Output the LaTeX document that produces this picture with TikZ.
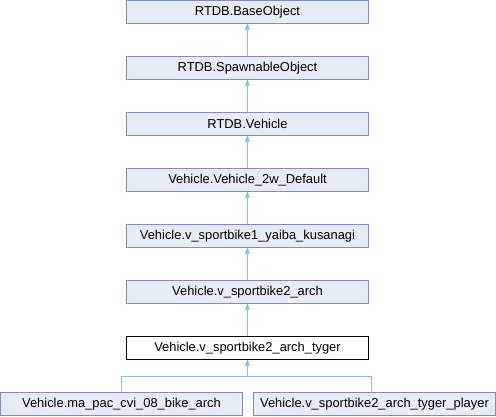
\documentclass[tikz,border=0pt]{standalone}
\usepackage{fontspec}
\setmainfont{Liberation Sans}
\usetikzlibrary{arrows.meta}
\definecolor{boxfill}{RGB}{232,236,245}
\definecolor{boxline}{RGB}{122,142,200}
\definecolor{edgecol}{RGB}{140,192,228}
\tikzset{
  cls/.style={draw=boxline, fill=boxfill, line width=1pt, minimum width=242pt, minimum height=22.5pt, inner sep=0pt, font=\fontsize{12.9}{14}\selectfont},
  cur/.style={cls, draw=black, fill=white},
  inh/.style={draw=edgecol, line width=1pt, -{Triangle[width=5pt,length=6pt]}},
  inhl/.style={draw=edgecol, line width=1pt}
}
\begin{document}
\begin{tikzpicture}[x=1pt,y=-1pt]
\useasboundingbox (0,0) rectangle (496,416);
\node[cls] (b0) at (247.5,11.75) {RTDB.BaseObject};
\node[cls] (b1) at (247.5,67.75) {RTDB.SpawnableObject};
\node[cls] (b2) at (247.5,123.75) {RTDB.Vehicle};
\node[cls] (b3) at (247.5,179.75) {Vehicle.Vehicle\_2w\_Default};
\node[cls] (b4) at (247.5,235.75) {Vehicle.v\_sportbike1\_yaiba\_kusanagi};
\node[cls] (b5) at (247.5,291.75) {Vehicle.v\_sportbike2\_arch};
\node[cur] (b6) at (247.5,347.75) {Vehicle.v\_sportbike2\_arch\_tyger};
\node[cls] (m1) at (121.5,403.75) {Vehicle.ma\_pac\_cvi\_08\_bike\_arch};
\node[cls] (m2) at (374.5,403.75) {Vehicle.v\_sportbike2\_arch\_tyger\_player};
\draw[inh] (b1) -- (b0);
\draw[inh] (b2) -- (b1);
\draw[inh] (b3) -- (b2);
\draw[inh] (b4) -- (b3);
\draw[inh] (b5) -- (b4);
\draw[inh] (b6) -- (b5);
\coordinate (j) at (247.5,376);
\coordinate (jl) at (121.5,376);
\coordinate (jr) at (371.5,376);
\draw[inhl] (m1.north) -- (jl) -- (jr) -- (jr |- m2.north);
\draw[inh] (j) -- (b6.south);
\end{tikzpicture}
\end{document}
